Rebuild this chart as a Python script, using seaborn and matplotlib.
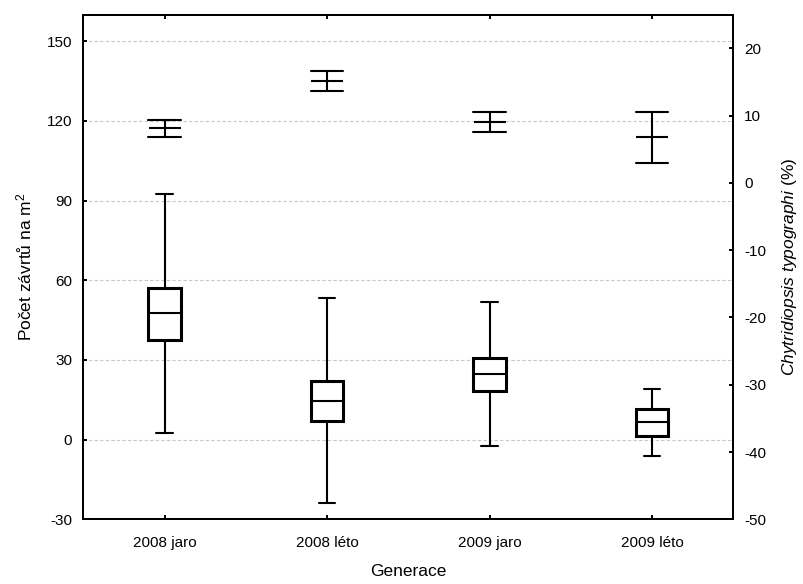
import matplotlib
matplotlib.use("Agg")
import matplotlib.pyplot as plt
import seaborn as sns
import pandas as pd

groups = ['2008 jaro', '2008 léto', '2009 jaro', '2009 léto']

# five-number summaries of the boxes (left axis)
box_min = [2.4, -23.9, -2.5, -6.0]
box_q1 = [37.7, 7.1, 18.2, 1.4]
box_med = [47.5, 14.7, 24.6, 6.5]
box_q3 = [57.1, 22.1, 30.9, 11.4]
box_max = [92.5, 53.4, 51.8, 19.0]

# infection (right axis): centre and interval
inf_low = [6.8, 13.6, 7.6, 2.9]
inf_mid = [8.1, 15.1, 9.1, 6.8]
inf_high = [9.4, 16.6, 10.6, 10.5]

rows = []
for i, g in enumerate(groups):
    for v in [box_min[i], box_q1[i], box_med[i], box_q3[i], box_max[i]]:
        rows.append({'gen': g, 'val': v})
df_box = pd.DataFrame(rows)

rows = []
for i, g in enumerate(groups):
    for v in [inf_low[i], inf_mid[i], inf_high[i]]:
        rows.append({'gen': g, 'inf': v})
df_inf = pd.DataFrame(rows)

sns.set_style('ticks')
plt.rcParams['font.family'] = ['Liberation Sans', 'DejaVu Sans']
plt.rcParams['mathtext.fontset'] = 'custom'
plt.rcParams['mathtext.rm'] = 'Liberation Sans'
plt.rcParams['mathtext.it'] = 'Liberation Sans:italic'
plt.rcParams['axes.unicode_minus'] = False
for k in ['text.color', 'axes.labelcolor', 'xtick.color', 'ytick.color']:
    plt.rcParams[k] = 'black'

fig = plt.figure(figsize=(8.04, 5.84), dpi=100)
ax = fig.add_axes([0.1036, 0.1108, 0.8084, 0.864])

sns.boxplot(data=df_box, x='gen', y='val', order=groups, ax=ax, whis=(0, 100),
            width=0.2, color='white', linecolor='black', fliersize=0,
            boxprops={'linewidth': 2.2, 'edgecolor': 'black', 'facecolor': 'white'},
            whiskerprops={'linewidth': 1.5},
            capprops={'linewidth': 1.5},
            medianprops={'linewidth': 1.5, 'color': 'black'})

ax.set_ylim(-30, 160)
ax.set_yticks([-30, 0, 30, 60, 90, 120, 150])
ax.yaxis.grid(True, linestyle=(0, (3, 2)), color='#c8c8c8', linewidth=0.8)
ax.set_axisbelow(True)

ax2 = ax.twinx()
sns.pointplot(data=df_inf, x='gen', y='inf', order=groups, ax=ax2,
              estimator='median', errorbar=('pi', 100), color='black',
              linestyle='none', markers='_', markersize=23, markeredgewidth=1.5,
              capsize=0.2, err_kws={'linewidth': 1.5})
ax2.set_ylim(-50, 25)
ax2.set_yticks([-50, -40, -30, -20, -10, 0, 10, 20])
ax2.grid(False)

ax.set_xlim(-0.5, 3.5)

ax.set_xlabel('Generace', fontsize=12.5, labelpad=10)
ax.set_ylabel('Počet závrtů na m$^2$', fontsize=12.5, labelpad=9)
ax2.set_ylabel(r'$\mathit{Chytridiopsis\ typographi}$ (%)', fontsize=12.5, labelpad=10)

ax.tick_params(axis='both', direction='in', length=3, width=1.4, labelsize=11,
               top=True, pad=8)
ax.tick_params(axis='x', pad=12)
ax.tick_params(axis='y', right=False)
ax2.tick_params(axis='y', direction='in', length=3, width=1.4, labelsize=11, pad=8)

for a in (ax, ax2):
    for s in a.spines.values():
        s.set_visible(True)
        s.set_linewidth(1.4)
        s.set_color('black')

fig.savefig('out.png', dpi=100)
